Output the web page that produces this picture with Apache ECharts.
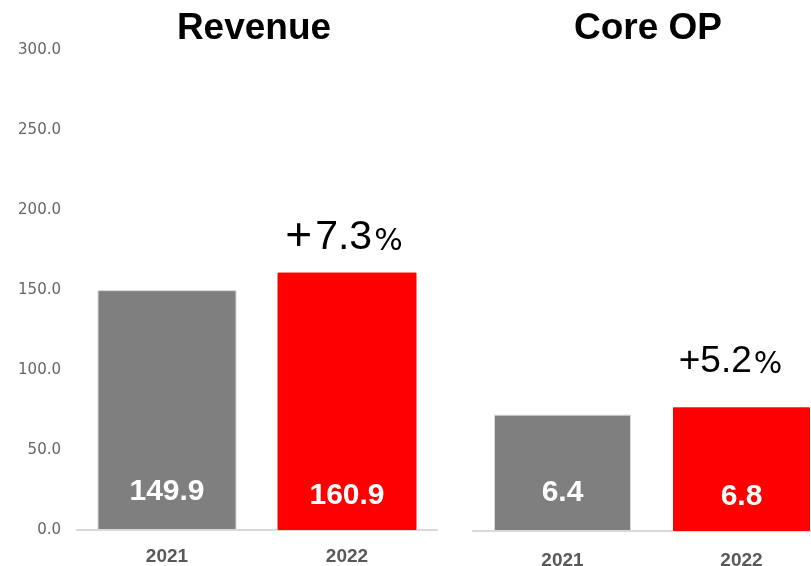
<!DOCTYPE html>
<html>
    <head>
        <meta charset="utf-8">
        <script src="https://cdn.jsdelivr.net/npm/echarts@6/dist/echarts.min.js"></script>
    </head>
    <body style="margin:0">
        <div id="main" style="width: 811px; height: 566px"></div>
        <script type="text/javascript">
            var chartDom = document.getElementById('main');
            var myChart = echarts.init(chartDom);

            const years = ['2021', '2022'];
            const revenue = [149.9, 160.9];
            const coreOp = [6.4, 6.8];
            const revenueGrowth = '7.3';
            const coreOpGrowth = '5.2';
            const revenueTicks = [0, 300, 50];

            const barColors = ['#7f7f7f', '#ff0000'];

            function bars(values) {
                return values.map(function (v, i) {
                    return {
                        value: v,
                        itemStyle: {
                            color: barColors[i],
                            borderColor: i === 0 ? '#d9d9d9' : barColors[i],
                            borderWidth: 1
                        },
                        label: { distance: i === 0 ? 23 : 19 }
                    };
                });
            }

            // growth text above the 2022 bar: sign, number, smaller %
            function growthMark(text, value, size, plusSize, gap, pctDrop, offset) {
                return {
                    symbol: 'rect',
                    symbolSize: 0,
                    silent: true,
                    data: [{
                        coord: ['2022', value],
                        label: {
                            show: true,
                            formatter: '{s|+}{n|' + text + '}{p|%}',
                            offset: offset,
                            rich: {
                                s: { fontSize: plusSize, color: '#000', fontFamily: 'Liberation Sans, Arial', padding: [0, gap, 0, 0] },
                                n: { fontSize: size, color: '#000', fontFamily: 'Liberation Sans, Arial' },
                                p: { fontSize: 30, color: '#000', fontFamily: 'DejaVu Sans', padding: [pctDrop, 0, 0, 2] }
                            }
                        }
                    }]
                };
            }

            const valueLabel = {
                show: true,
                position: 'insideBottom',
                color: '#fff',
                fontSize: 30,
                fontWeight: 'bold',
                fontFamily: 'Liberation Sans, Arial'
            };

            const catAxis = {
                type: 'category',
                data: years,
                axisTick: { show: false },
                axisLine: { lineStyle: { color: '#d9d9d9', width: 2 } },
                axisLabel: {
                    color: '#595959',
                    fontSize: 19,
                    fontWeight: 'bold',
                    fontFamily: 'Liberation Sans, Arial',
                    margin: 17
                }
            };

            const titleStyle = { fontSize: 37, fontWeight: 'bold', color: '#000', fontFamily: 'Liberation Sans, Arial' };

            const option = {
                animation: false,
                title: [
                    { text: 'Revenue', left: 249, top: 5, textAlign: 'center', textStyle: titleStyle },
                    { text: 'Core OP', left: 643, top: 5, textAlign: 'center', textStyle: titleStyle }
                ],
                grid: [
                    { left: 77, width: 360, top: 50, height: 480, outerBoundsMode: 'none' },
                    { left: 473, width: 358, top: 51, height: 480, outerBoundsMode: 'none' }
                ],
                xAxis: [
                    Object.assign({ gridIndex: 0 }, catAxis),
                    Object.assign({ gridIndex: 1 }, catAxis, {
                        axisLabel: Object.assign({}, catAxis.axisLabel, { margin: 20 })
                    })
                ],
                yAxis: [
                    {
                        gridIndex: 0,
                        type: 'value',
                        min: revenueTicks[0],
                        max: revenueTicks[1],
                        interval: revenueTicks[2],
                        splitLine: { show: false },
                        axisLine: { show: false },
                        axisTick: { show: false },
                        axisLabel: {
                            color: '#666',
                            fontSize: 15,
                            fontFamily: 'DejaVu Sans',
                            margin: 16,
                            formatter: function (v) { return v.toFixed(1); }
                        }
                    },
                    { gridIndex: 1, type: 'value', min: 0, max: 26.4, show: false }
                ],
                series: [
                    {
                        type: 'bar',
                        xAxisIndex: 0,
                        yAxisIndex: 0,
                        barWidth: 139,
                        data: bars(revenue),
                        label: valueLabel,
                        markPoint: growthMark(revenueGrowth, revenue[1], 41, 46, 3, 10, [-3, -35])
                    },
                    {
                        type: 'bar',
                        xAxisIndex: 1,
                        yAxisIndex: 1,
                        barWidth: 137,
                        data: bars(coreOp),
                        label: valueLabel,
                        markPoint: growthMark(coreOpGrowth, coreOp[1], 37, 37, 0, 8, [-11, -46])
                    }
                ]
            };

            myChart.setOption(option);
        </script>
    </body>
</html>
